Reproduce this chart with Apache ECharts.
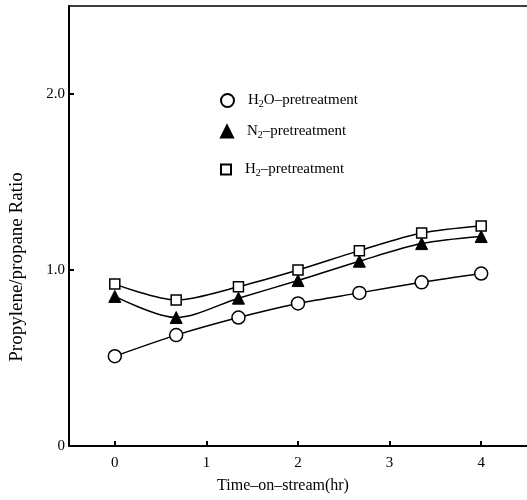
<!DOCTYPE html>
<html>
<head>
<meta charset="utf-8">
<script src="https://cdn.jsdelivr.net/npm/echarts@6/dist/echarts.min.js"></script>
<style>html,body{margin:0;padding:0;background:#fff;}#c{width:527px;height:500px;}</style>
</head>
<body>
<div id="c"></div>
<script>
const timeHr = [0, 0.67, 1.35, 2, 2.67, 3.35, 4];
const h2oValues = [0.51, 0.63, 0.73, 0.81, 0.87, 0.93, 0.98];
const n2Values = [0.85, 0.73, 0.84, 0.94, 1.05, 1.15, 1.19];
const h2Values = [0.92, 0.83, 0.905, 1.0, 1.11, 1.21, 1.25];
const xTicks = [0, 1, 2, 3, 4];
const yTicks = [0, 1, 2];
const seriesNames = ['H2O', 'N2', 'H2'];

const FONT = 'Liberation Serif';
function pairs(vals){ return timeHr.map((t,i)=>[t, vals[i]]); }
const rich = {
  a: {fontFamily: FONT, fontSize: 15, color: '#000'},
  s: {fontFamily: FONT, fontSize: 10, color: '#000', verticalAlign: 'bottom', padding: [8,0,0,0]}
};
const legendFmt = {
  'H2O': '{a|H}{s|2}{a|O–pretreatment}',
  'N2': '{a|N}{s|2}{a|–pretreatment}',
  'H2': '{a|H}{s|2}{a|–pretreatment}'
};
function mkLegend(name, top, icon, w, h){
  return {
    data: [{name: name, icon: icon}],
    left: 215, top: top, itemWidth: w, itemHeight: h, itemGap: 0,
    formatter: n => legendFmt[n],
    textStyle: {rich: rich, padding: [0,0,0,9]},
    selectedMode: false
  };
}
const chart = echarts.init(document.getElementById('c'));
chart.setOption({
  animation: false,
  grid: {left: 69, top: 6, width: 458, height: 440, outerBoundsMode: 'none', containLabel: false},
  legend: [
    mkLegend('H2O', 88, 'circle', 13, 13),
    mkLegend('N2', 119, 'triangle', 12, 12),
    mkLegend('H2', 157, 'rect', 10, 10)
  ],
  xAxis: [{
    type: 'value', min: -0.5, max: 4.5,
    name: 'Time–on–stream(hr)', nameLocation: 'middle', nameGap: 32,
    nameTextStyle: {fontFamily: FONT, fontSize: 16, color: '#000', padding: [0, 30, 0, 0]},
    axisLine: {show: true, onZero: false, lineStyle: {color: '#000', width: 2}},
    axisTick: {show: true, inside: true, length: 5, customValues: xTicks, lineStyle: {color: '#000', width: 2}},
    axisLabel: {customValues: xTicks, fontFamily: FONT, fontSize: 15, color: '#000', margin: 10},
    splitLine: {show: false}
  }, {
    type: 'value', position: 'top', min: -0.5, max: 4.5,
    axisLine: {show: true, onZero: false, lineStyle: {color: '#000', width: 1.5}},
    axisTick: {show: false}, axisLabel: {show: false}, splitLine: {show: false}
  }],
  yAxis: {
    type: 'value', min: 0, max: 2.5,
    name: 'Propylene/propane Ratio', nameLocation: 'middle', nameGap: 42,
    nameTextStyle: {fontFamily: FONT, fontSize: 19, color: '#000', padding: [0, 0, 0, -82]},
    axisLine: {show: true, onZero: false, lineStyle: {color: '#000', width: 2}},
    axisTick: {show: true, inside: true, length: 5, customValues: yTicks, lineStyle: {color: '#000', width: 2}},
    axisLabel: {customValues: yTicks, fontFamily: FONT, fontSize: 15, color: '#000', margin: 4,
      formatter: v => v === 0 ? '0' : v.toFixed(1)},
    splitLine: {show: false}
  },
  series: [
    {name: seriesNames[0], type: 'line', data: pairs(h2oValues), smooth: 0.3,
     symbol: 'circle', symbolSize: 13,
     lineStyle: {color: '#000', width: 1.5},
     itemStyle: {color: '#fff', borderColor: '#000', borderWidth: 1.5}},
    {name: seriesNames[1], type: 'line', data: pairs(n2Values), smooth: 0.3,
     symbol: 'triangle', symbolSize: 12,
     lineStyle: {color: '#000', width: 1.5},
     itemStyle: {color: '#000', borderColor: '#000', borderWidth: 1}},
    {name: seriesNames[2], type: 'line', data: pairs(h2Values), smooth: 0.3,
     symbol: 'rect', symbolSize: 10,
     lineStyle: {color: '#000', width: 1.5},
     itemStyle: {color: '#fff', borderColor: '#000', borderWidth: 1.5}}
  ]
});
</script>
</body>
</html>
